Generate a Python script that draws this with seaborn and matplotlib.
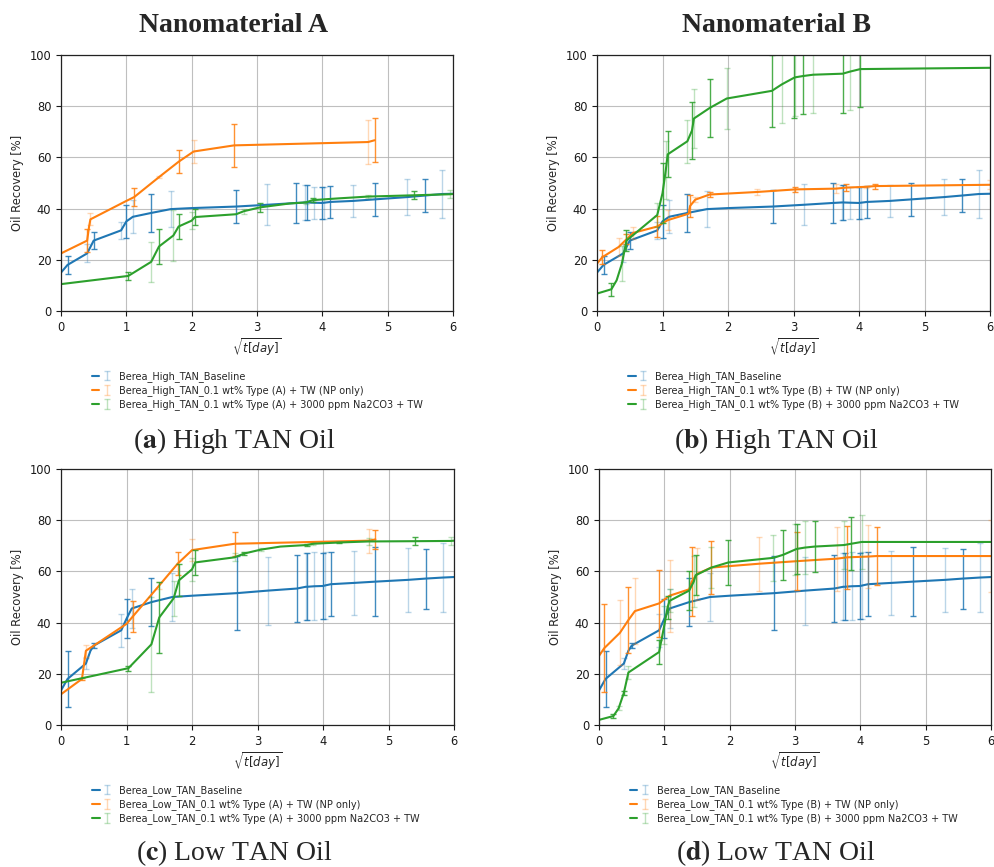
import numpy as np
import pandas as pd
import matplotlib
matplotlib.use("Agg")
import matplotlib.pyplot as plt
import seaborn as sns
from matplotlib.legend_handler import HandlerTuple

# ---------------- data ----------------
# Baseline, high TAN oil (shared by panels a and b)
hb_x = [0, 0.1, 0.4, 0.45, 0.5, 0.92, 1.0, 1.1, 1.38, 1.68, 2.0, 2.68, 3.16, 3.6, 3.74, 3.76, 3.87, 4.0, 4.03, 4.12, 4.47, 4.8, 5.3, 5.57, 5.83, 6.0]
hb_y = [15, 18, 22.5, 25, 27.5, 31.5, 35, 36.8, 38.3, 39.8, 40.2, 40.8, 41.5, 42.2, 42.4, 42.4, 42.3, 42.2, 42.3, 42.6, 43.0, 43.6, 44.5, 45.1, 45.7, 45.8]
hb_e = [0, 3.5, 3.5, 0, 3.3, 3.3, 6.5, 6.5, 7.3, 7, 0, 6.3, 8, 7.8, 7, 7, 6.3, 6.3, 6.3, 6.3, 6.3, 6.3, 7, 6.3, 9.5, 0]

# Type (A) NP only, high TAN
ha_np_x = [0, 0.4, 0.43, 0.45, 1.0, 1.12, 1.5, 1.8, 2.03, 2.65, 4.7, 4.8]
ha_np_y = [22.5, 27.5, 33, 35.8, 43, 44.5, 52.3, 58.3, 62.3, 64.7, 66, 66.7]
ha_np_e = [0, 4.5, 0, 2.3, 0, 3.5, 0.5, 4.5, 4.5, 8.5, 8.5, 8.5]

# Type (A) + Na2CO3, high TAN
ha_na_x = [0, 1.03, 1.38, 1.5, 1.72, 1.8, 2.0, 2.05, 2.68, 2.8, 3.05, 3.5, 3.75, 3.85, 4.25, 4.7, 5.4, 5.95, 6.0]
ha_na_y = [10.5, 13.7, 19.2, 25.2, 29.5, 33, 35.3, 36.7, 37.8, 39, 40.5, 42, 42.4, 43.3, 44, 44.7, 45.2, 45.6, 45.7]
ha_na_e = [0, 1.5, 7.7, 7, 9.8, 5, 3.3, 3.3, 0, 1, 1.7, 0, 0.5, 0.7, 0, 0.7, 1.5, 1.5, 0]

# Type (B) NP only, high TAN
hbn_np_x = [0, 0.08, 0.33, 0.45, 0.55, 0.92, 1.08, 1.4, 1.42, 1.5, 1.72, 2.45, 3.03, 3.65, 3.8, 4.1, 4.25, 6.0]
hbn_np_y = [18.5, 21, 25, 28, 30.5, 33, 35.5, 38, 41, 43.5, 45.5, 46.5, 47.5, 47.8, 48.2, 48.5, 48.8, 49.3]
hbn_np_e = [0, 2.7, 3.5, 2, 2.5, 4, 4, 0, 4.3, 1, 1, 1, 1, 1.7, 1.3, 0.5, 1, 1.7]

# Type (B) + Na2CO3, high TAN
hbn_na_x = [0, 0.22, 0.3, 0.38, 0.45, 0.92, 1.0, 1.05, 1.08, 1.38, 1.45, 1.48, 1.72, 1.98, 2.67, 2.82, 3.0, 3.03, 3.15, 3.3, 3.75, 3.86, 4.02, 6.0]
hbn_na_y = [6.8, 8.5, 12, 18.5, 27.5, 37.5, 46, 55, 61.2, 66.3, 70.5, 75.2, 79.3, 83, 86, 88.5, 91, 91.3, 91.8, 92.3, 92.7, 93.5, 94.5, 95]
hbn_na_e = [0, 2.5, 0, 6.8, 4, 4.8, 11.8, 11.3, 9, 8.5, 11, 11.7, 11.3, 11.8, 14, 15, 15.5, 15.3, 14.8, 14.8, 15.2, 15, 15, 0]

# Baseline, low TAN oil (shared by panels c and d)
lb_x = [0, 0.1, 0.38, 0.45, 0.5, 0.92, 1.0, 1.08, 1.38, 1.7, 2.0, 2.68, 3.16, 3.6, 3.74, 3.76, 3.87, 4.0, 4.03, 4.12, 4.47, 4.8, 5.3, 5.57, 5.83, 6.0]
lb_y = [13.5, 18, 24, 29, 31, 37, 41.5, 45.5, 48, 50, 50.5, 51.5, 52.5, 53.3, 54, 54, 54.2, 54.3, 54.5, 55, 55.5, 56, 56.7, 57.2, 57.6, 57.8]
lb_e = [0, 10.8, 2, 0, 1, 6.5, 7.7, 7.7, 9.5, 9.5, 0, 14.5, 13.3, 13, 13, 13, 13.2, 13, 13, 12.5, 12.5, 13.5, 12.5, 11.7, 13.5, 0]

# Type (A) NP only, low TAN
la_np_x = [0, 0.32, 0.38, 0.5, 1.0, 1.1, 1.5, 1.78, 2.0, 2.65, 4.7, 4.8]
la_np_y = [12, 18, 29, 31, 39.5, 42.5, 54.5, 63, 68.3, 70.8, 72, 72.5]
la_np_e = [0, 0.5, 2.3, 0, 0, 6, 1.5, 4.5, 4.3, 4.7, 4.7, 3.7]

# Type (A) + Na2CO3, low TAN
la_na_x = [0, 1.03, 1.38, 1.5, 1.72, 1.8, 2.0, 2.05, 2.65, 2.8, 3.05, 3.35, 3.75, 3.85, 4.25, 4.7, 5.4, 5.95, 6.0]
la_na_y = [16.5, 22.2, 31.5, 42, 49.5, 56.5, 60.8, 63.5, 65.5, 67, 68.5, 69.7, 70.3, 70.8, 71.3, 71.7, 71.8, 71.9, 72]
la_na_e = [0, 1, 18.5, 13.8, 6.8, 6.3, 4.5, 5, 1.5, 0.5, 0.7, 0, 0.5, 0.3, 0.3, 1.5, 1.5, 1.7, 0]

# Type (B) NP only, low TAN
lbn_np_x = [0, 0.08, 0.32, 0.45, 0.55, 0.92, 1.08, 1.38, 1.42, 1.5, 1.72, 2.45, 3.03, 3.65, 3.8, 4.12, 4.25, 6.0]
lbn_np_y = [27, 30, 36, 41, 44.5, 47.5, 50.5, 53, 56, 59, 61.5, 63, 64, 65, 65.5, 65.8, 66, 66]
lbn_np_e = [0, 17.3, 12.7, 13, 13, 13, 14, 0, 13.5, 10, 10.5, 10.5, 11.2, 12.5, 12.3, 12.3, 11.5, 14]

# Type (B) + Na2CO3, low TAN
lbn_na_x = [0, 0.22, 0.3, 0.38, 0.45, 0.92, 1.0, 1.05, 1.08, 1.38, 1.45, 1.48, 1.72, 1.98, 2.67, 2.82, 3.0, 3.03, 3.15, 3.3, 3.75, 3.86, 4.02, 6.0]
lbn_na_y = [2, 3.5, 6.5, 12.5, 20.5, 28.5, 39, 46, 48.5, 52.5, 56, 58.5, 61.5, 63.5, 65.3, 66.5, 68.5, 68.8, 69.3, 69.7, 70.3, 70.8, 71.5, 71.5]
lbn_na_e = [0, 0.8, 0.8, 0.8, 2.5, 4.8, 7.5, 4.5, 4.5, 7.5, 10, 7.8, 8, 8.8, 9, 9.8, 10, 9.8, 10.3, 9.8, 9.3, 10.3, 10.5, 0]

titles = ["Nanomaterial A", "Nanomaterial B"]
captions = [("a", "High TAN Oil"), ("b", "High TAN Oil"), ("c", "Low TAN Oil"), ("d", "Low TAN Oil")]

panels = [
    [(hb_x, hb_y, hb_e, "Berea_High_TAN_Baseline"),
     (ha_np_x, ha_np_y, ha_np_e, "Berea_High_TAN_0.1 wt% Type (A) + TW (NP only)"),
     (ha_na_x, ha_na_y, ha_na_e, "Berea_High_TAN_0.1 wt% Type (A) + 3000 ppm Na2CO3 + TW")],
    [(hb_x, hb_y, hb_e, "Berea_High_TAN_Baseline"),
     (hbn_np_x, hbn_np_y, hbn_np_e, "Berea_High_TAN_0.1 wt% Type (B) + TW (NP only)"),
     (hbn_na_x, hbn_na_y, hbn_na_e, "Berea_High_TAN_0.1 wt% Type (B) + 3000 ppm Na2CO3 + TW")],
    [(lb_x, lb_y, lb_e, "Berea_Low_TAN_Baseline"),
     (la_np_x, la_np_y, la_np_e, "Berea_Low_TAN_0.1 wt% Type (A) + TW (NP only)"),
     (la_na_x, la_na_y, la_na_e, "Berea_Low_TAN_0.1 wt% Type (A) + 3000 ppm Na2CO3 + TW")],
    [(lb_x, lb_y, lb_e, "Berea_Low_TAN_Baseline"),
     (lbn_np_x, lbn_np_y, lbn_np_e, "Berea_Low_TAN_0.1 wt% Type (B) + TW (NP only)"),
     (lbn_na_x, lbn_na_y, lbn_na_e, "Berea_Low_TAN_0.1 wt% Type (B) + 3000 ppm Na2CO3 + TW")],
]

colors = ["#1f77b4", "#ff7f0e", "#2ca02c"]

# ---------------- drawing ----------------
sns.set_theme(style="ticks")
plt.rcParams['font.family'] = ['DejaVu Sans']
plt.rcParams['mathtext.fontset'] = 'dejavusans'

W, H = 994, 867
fig = plt.figure(figsize=(W / 100, H / 100), dpi=100)

# axes boxes in pixels: left, top, right, bottom
boxes = [(61, 55, 453, 311), (597, 55, 990, 311), (61, 469, 454, 725), (599, 469, 991, 725)]

for i, (box, series) in enumerate(zip(boxes, panels)):
    l, t, r, b = box
    ax = fig.add_axes([l / W, 1 - b / H, (r - l) / W, (b - t) / H])
    handles = []
    labels = []
    for (x, y, e, lab), c in zip(series, colors):
        df = pd.DataFrame({"x": x, "y": y, "e": e})
        n_before = len(ax.lines)
        sns.lineplot(data=df, x="x", y="y", ax=ax, color=c, linewidth=1.5,
                     estimator=None, sort=False)
        line = ax.lines[n_before]
        sub = df[df["e"] > 0].reset_index(drop=True)
        even = sub.iloc[::2]
        odd = sub.iloc[1::2]
        ax.errorbar(even["x"], even["y"], yerr=even["e"], fmt="none",
                    ecolor=c, elinewidth=1.0, capsize=2, alpha=0.85)
        err_light = ax.errorbar(odd["x"], odd["y"], yerr=odd["e"], fmt="none",
                                ecolor=c, elinewidth=1.0, capsize=2, alpha=0.3)
        handles.append((line, err_light))
        labels.append(lab)
    ax.set_xlim(0, 6)
    ax.set_ylim(0, 100)
    ax.set_xticks(range(0, 7))
    ax.set_yticks(range(0, 101, 20))
    ax.grid(True, color="#b0b0b0", linewidth=0.8, alpha=0.8)
    ax.tick_params(labelsize=8.3, length=3.5, width=0.8, colors="#1a1a1a")
    for sp in ax.spines.values():
        sp.set_color("#222222")
        sp.set_linewidth(0.9)
    ax.set_xlabel(r"$\sqrt{t[day]}$", fontsize=8.5, labelpad=2)
    ax.set_ylabel("Oil Recovery [%]", fontsize=8.3, labelpad=4)
    ax.legend(handles, labels, handler_map={tuple: HandlerTuple(ndivide=None)},
              loc="upper left", bbox_to_anchor=(0.056, -0.2), frameon=False,
              fontsize=7.0, handlelength=2.0, labelspacing=0.35)

# titles
fig.text(234 / W, 1 - 25 / H, titles[0], ha="center", va="center",
         fontsize=20, fontweight="bold", family="Liberation Serif")
fig.text(776 / W, 1 - 25 / H, titles[1], ha="center", va="center",
         fontsize=20, fontweight="bold", family="Liberation Serif")

cap_pos = [(234, 441), (776, 441), (234, 853), (776, 853)]
for (letter, rest), (cx, cy) in zip(captions, cap_pos):
    fig.text(cx / W, 1 - cy / H, r"($\mathbf{" + letter + r"}$) " + rest,
             ha="center", va="center", fontsize=20, family="Liberation Serif",
             math_fontfamily="stix")

fig.savefig("out.png", dpi=100)
